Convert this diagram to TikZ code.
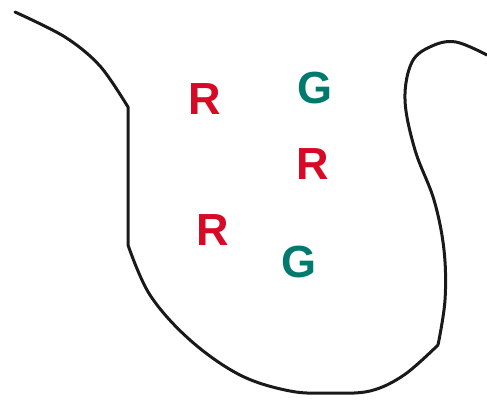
\documentclass[tikz,border=0pt]{standalone}
\usepackage{fontspec}
\setmainfont{Liberation Sans}
\definecolor{lred}{RGB}{214,10,36}
\definecolor{lteal}{RGB}{0,122,110}
\begin{document}
\begin{tikzpicture}[x=1pt,y=-1pt,
  outline/.style={line width=3pt, line cap=round, line join=round, black!90},
  rlet/.style={text=lred, font=\fontsize{45}{45}\selectfont\bfseries, inner sep=0pt},
  glet/.style={text=lteal, font=\fontsize{45}{45}\selectfont\bfseries, inner sep=0pt}]
\useasboundingbox (0,0) rectangle (487,400);
\draw[outline] plot[smooth, tension=0.55] coordinates {(15,12) (65,37) (100,66) (128,107)}
  -- (128,245)
  plot[smooth, tension=0.6] coordinates {(128,245) (150,295) (190,340) (240,375) (290,391) (330,393) (370,391) (404,375) (438,345)}
  plot[smooth, tension=0.6] coordinates {(438,345) (445,300) (444,250) (434,200) (415,150) (405,100) (412,62) (432,46) (456,42) (487,55)};
\node[rlet] (r1) at (205,99) {R};
\node[glet] (g1) at (315,88) {G};
\node[rlet] (r2) at (313,164) {R};
\node[rlet] (r3) at (213,230) {R};
\node[glet] (g2) at (299,262) {G};
\end{tikzpicture}
\end{document}
